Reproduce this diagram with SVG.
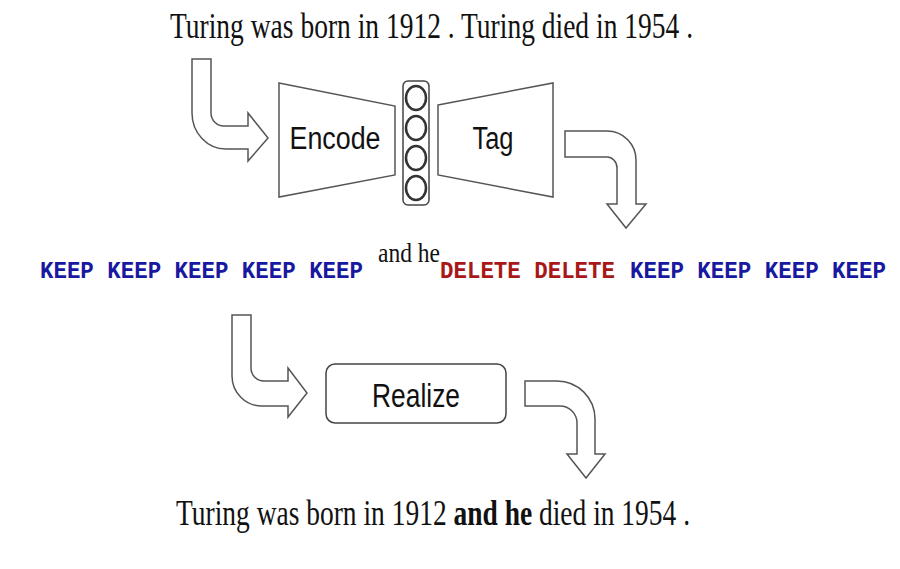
<svg xmlns="http://www.w3.org/2000/svg" width="900" height="569" viewBox="0 0 900 569">
<style>
.shape{fill:#fff;stroke:#555;stroke-width:1.5;stroke-linejoin:miter}
.arrow{fill:#fff;stroke:#555;stroke-width:1.5;stroke-linejoin:miter}
.circ{fill:none;stroke:#333;stroke-width:2.5}
.lbl{font-family:"Liberation Sans",Arial,sans-serif;fill:#111;text-anchor:middle}
.serif{font-family:"Liberation Serif","Times New Roman",serif;fill:#111}
.mono{font-family:"Liberation Mono","Courier New",monospace;font-weight:bold;font-size:23px}
.keep{fill:#1818a0}
.del{fill:#a81818}
</style>
<rect width="900" height="569" fill="#fff"/>
<g id="input-text">
<text class="serif" x="170" y="38" font-size="35" textLength="523" lengthAdjust="spacingAndGlyphs">Turing was born in 1912 . Turing died in 1954 .</text>
</g>
<g id="encode">
<polygon class="shape" points="279,83 395,106 395,175 279,197"/>
<text class="lbl" x="335" y="149" font-size="31" textLength="91" lengthAdjust="spacingAndGlyphs">Encode</text>
</g>
<g id="latent">
<rect x="403" y="81" width="26" height="124" rx="5" fill="#fff" stroke="#444" stroke-width="1.5"/>
<ellipse class="circ" cx="416" cy="98" rx="10" ry="12"/>
<ellipse class="circ" cx="416" cy="128" rx="10" ry="12"/>
<ellipse class="circ" cx="416" cy="158" rx="10" ry="12"/>
<ellipse class="circ" cx="416" cy="188" rx="10" ry="12"/>
</g>
<g id="tag">
<polygon class="shape" points="438,105 553,83 553,197 438,175"/>
<text class="lbl" x="493" y="149" font-size="31" textLength="41" lengthAdjust="spacingAndGlyphs">Tag</text>
</g>
<g id="tags">
<text class="mono keep" x="40" y="278" textLength="323" lengthAdjust="spacingAndGlyphs">KEEP KEEP KEEP KEEP KEEP</text>
<text class="serif" x="378" y="262" font-size="27" textLength="62" lengthAdjust="spacingAndGlyphs">and he</text>
<text class="mono del" x="440" y="278" textLength="175" lengthAdjust="spacingAndGlyphs">DELETE DELETE</text>
<text class="mono keep" x="630" y="278" textLength="256" lengthAdjust="spacingAndGlyphs">KEEP KEEP KEEP KEEP</text>
</g>
<g id="realize">
<rect x="326" y="364" width="180" height="59" rx="9" fill="#fff" stroke="#444" stroke-width="1.5"/>
<text class="lbl" x="416" y="407" font-size="33" textLength="88" lengthAdjust="spacingAndGlyphs">Realize</text>
</g>
<g id="output-text">
<text class="serif" font-size="35" transform="translate(176,525) scale(0.785,1)" x="0" y="0">Turing was born in 1912 <tspan font-weight="bold">and he</tspan> died in 1954 .</text>
</g>
<g id="connectors">
<path class="arrow" d="M192,59 H211 V113 A13 13 0 0 0 224 126 H248 V113 L268 138 L248 161 V149 H226 A34 36 0 0 1 192 113 Z"/>
<path class="arrow" d="M565,131 H607 A29 29 0 0 1 636 160 V204 H646 L626 228 L607 204 H617 V168 A10 11 0 0 0 607 157 H565 Z"/>
<path class="arrow" d="M232,315 H251 V368 A13 13 0 0 0 264 381 H288 V368 L307 393 L288 417 V406 H262 A30 30 0 0 1 232 376 Z"/>
<path class="arrow" d="M525,381 H557 A38 38 0 0 1 595 419 V454 H605 L586 478 L567 454 H577 V423 A17 17 0 0 0 560 406 H525 Z"/>
</g>
</svg>
